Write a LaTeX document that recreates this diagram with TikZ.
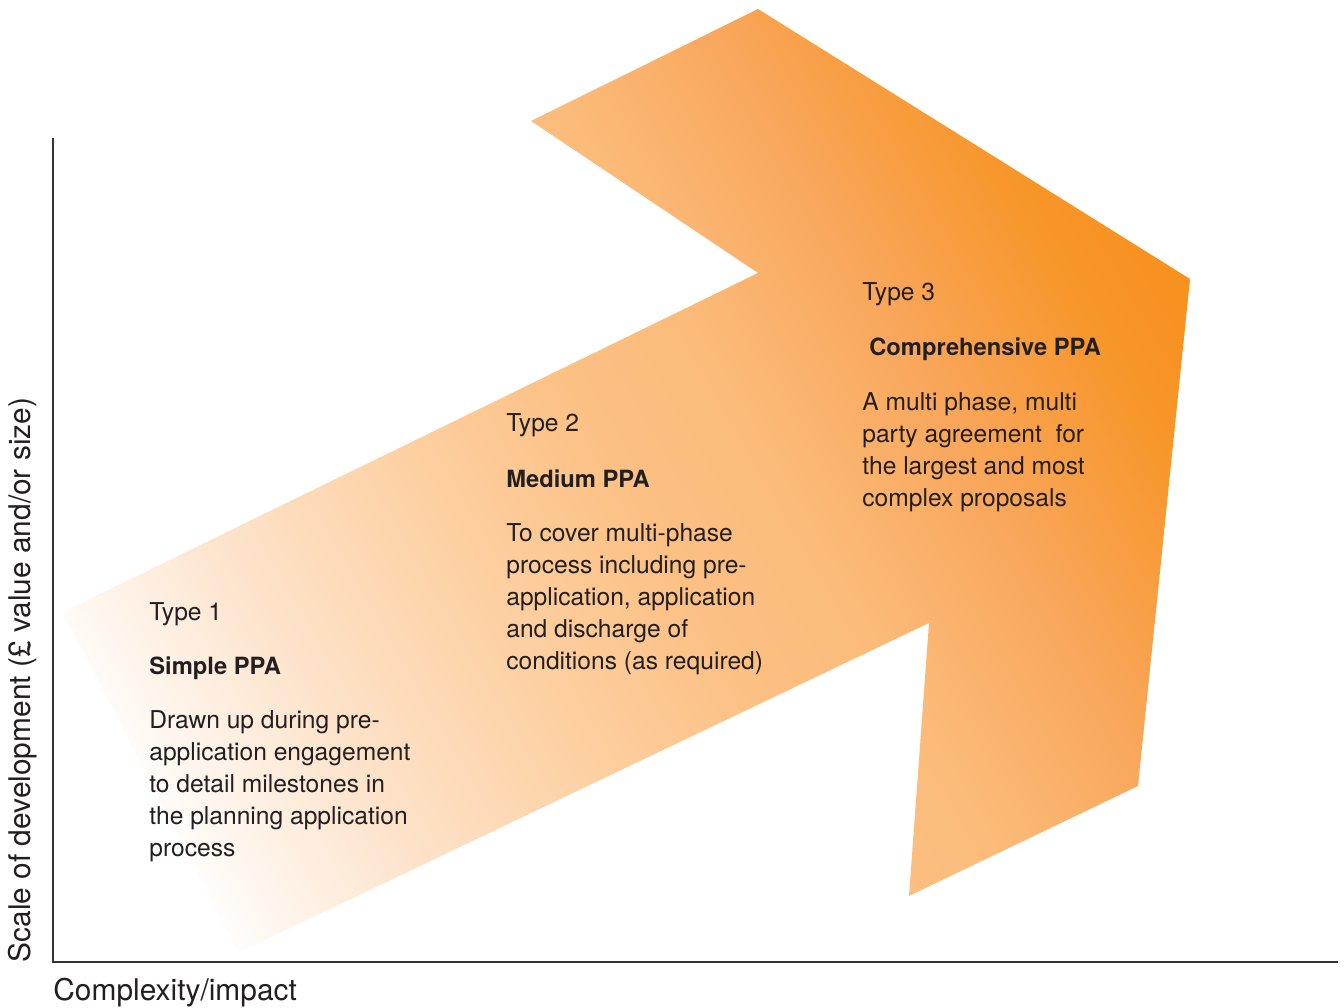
\documentclass[tikz,border=0pt]{standalone}
\usepackage{fontspec}
\setmainfont{TeX Gyre Heros}

% colours of the arrow, light to dark
\definecolor{ppatext}{HTML}{231F20}
\definecolor{ppaA}{HTML}{FDE3CB}
\definecolor{ppaB}{HTML}{FDD3A8}
\definecolor{ppaC}{HTML}{FCC083}
\definecolor{ppaD}{HTML}{FBBC7B}
\definecolor{ppaE}{HTML}{F9A65A}
\definecolor{ppaF}{HTML}{F7962A}
\definecolor{ppaG}{HTML}{F7901E}

\pgfdeclarehorizontalshading{ppafade}{100bp}{color(0bp)=(white); color(22bp)=(white); color(32bp)=(ppaA); color(40bp)=(ppaB); color(50bp)=(ppaC); color(56bp)=(ppaD); color(65bp)=(ppaE); color(73bp)=(ppaF); color(78bp)=(ppaG); color(100bp)=(ppaG)}

\begin{document}
\begin{tikzpicture}[
    typelbl/.style={anchor=base west,inner sep=0pt,text=ppatext,font=\fontsize{14}{18.2}\selectfont},
    titlelbl/.style={anchor=base west,inner sep=0pt,text=ppatext,font=\fontsize{13.5}{18.2}\selectfont\bfseries},
    bodylbl/.style={anchor=north west,inner sep=0pt,align=left,text=ppatext,font=\fontsize{14}{18.2}\selectfont},
    axislbl/.style={inner sep=0pt,text=ppatext,font=\fontsize{17}{20}\selectfont}
]

    \useasboundingbox (-1.06,-0.90) rectangle (25.82,19.24);

    %%%%%%%%%%%%%%%%%%%%%%%%%%%%%%%%%%%%%%%%%%%%%%%%%%%%%%

    % the big arrow
    \path[shading=ppafade,shading angle=30] (0.20,7.00) -- (3.70,0.18) -- (17.52,6.78) -- (17.12,1.32) -- (21.70,3.52) -- (22.74,13.66) -- (14.10,19.06) -- (9.56,16.82) -- (14.10,13.78) -- cycle;

    %%%%%%%%%%%%%%%%%%%%%%%%%%%%%%%%%%%%%%%%%%%%%%%%%%%%%%

    % axes
    \coordinate (origin) at (0,0);
    \coordinate (ytop) at (0,16.48);
    \coordinate (xend) at (25.70,0);
    \draw[black!80,line width=0.85pt] (ytop) -- (origin) -- (xend);

    \node[axislbl,anchor=base west] (xlbl) at (0,-0.76) {Complexity/impact};
    \node[axislbl,rotate=90] (ylbl) at (-0.60,5.64) {Scale of development (£ value and/or size)};

    %%%%%%%%%%%%%%%%%%%%%%%%%%%%%%%%%%%%%%%%%%%%%%%%%%%%%%

    % type 1
    \node[typelbl] (type1) at (1.92,6.84) {Type 1};
    \node[titlelbl] (title1) at (1.92,5.76) {Simple PPA};
    \node[bodylbl] (body1) at (1.92,5.03) {Drawn up during pre-\\application engagement\\to detail milestones in\\the planning application\\process};

    %%%%%%%%%%%%%%%%%%%%%%%%%%%%%%%%%%%%%%%%%%%%%%%%%%%%%%

    % type 2
    \node[typelbl] (type2) at (9.06,10.61) {Type 2};
    \node[titlelbl] (title2) at (9.06,9.50) {Medium PPA};
    \node[bodylbl] (body2) at (9.06,8.78) {To cover multi-phase\\process including pre-\\application, application\\and discharge of\\conditions (as required)};

    %%%%%%%%%%%%%%%%%%%%%%%%%%%%%%%%%%%%%%%%%%%%%%%%%%%%%%

    % type 3
    \node[typelbl] (type3) at (16.18,13.23) {Type 3};
    \node[titlelbl] (title3) at (16.32,12.12) {Comprehensive PPA};
    \node[bodylbl] (body3) at (16.18,11.40) {A multi phase, multi\\party agreement\ \ for\\the largest and most\\complex proposals};

\end{tikzpicture}
\end{document}
